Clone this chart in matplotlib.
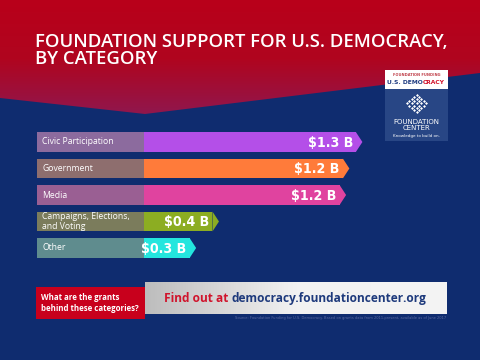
import os
import matplotlib.pyplot as plt
import matplotlib.colors as mcolors
from matplotlib import font_manager
import numpy as np

# Data (billions of USD)
categories = ["Civic Participation", "Government", "Media",
              "Campaigns, Elections,\nand Voting", "Other"]
values = [1.30, 1.22, 1.20, 0.42, 0.28]
value_labels = ["$1.3 B", "$1.2 B", "$1.2 B", "$0.4 B", "$0.3 B"]
bar_colors = ["#b44fe8", "#ff7b3a", "#e0439f", "#8cad22", "#23e6de"]
label_colors = ["#8c6b9e", "#8e6e6e", "#9a5f93", "#7b7c5c", "#5f8c8e"]

title = "FOUNDATION SUPPORT FOR U.S. DEMOCRACY,\nBY CATEGORY"
source = ("Source: Foundation Funding for U.S. Democracy. Based on grants data "
          "from 2011-present, available as of June 2017")

W, H = 480, 360
fig = plt.figure(figsize=(4.8, 3.6), dpi=100)
renderer = fig.canvas.get_renderer()

# background in pixel coordinates
bg = fig.add_axes([0, 0, 1, 1])
bg.axis("off")

red_cmap = mcolors.LinearSegmentedColormap.from_list("r", ["#b9001a", "#b0051f", "#8e1850"])
grad = np.linspace(0, 1, 200).reshape(-1, 1)
bg.imshow(grad, cmap=red_cmap, extent=[0, W, 118, 0], aspect="auto", zorder=0)
bg.add_patch(plt.Polygon([(0, 98), (145, 114), (480, 73), (480, 360), (0, 360)],
                         closed=True, color="#0f2c6f", lw=0, zorder=1))

bg.text(35, 33, title, color="white", fontsize=13.3, family="Open Sans",
        fontweight="semibold", va="top", ha="left", linespacing=0.92)

# logo
bg.add_patch(plt.Rectangle((385, 70), 63, 19, color="white", lw=0, zorder=2))
bg.add_patch(plt.Rectangle((385, 89), 63, 52, color="#2d4b8a", lw=0, alpha=0.85, zorder=2))
bg.text(416.5, 74.5, "FOUNDATION FUNDING", fontsize=2.6, color="#c0404a",
        ha="center", va="center", family="DejaVu Sans", fontweight="bold", zorder=3)
bg.text(422.5, 82.5, "U.S. DEMO", fontsize=4.3, color="#1d3a80", ha="right",
        va="center", family="DejaVu Sans", fontweight="bold", zorder=3)
bg.text(422.5, 82.5, "CRACY", fontsize=4.3, color="#d0102a", ha="left",
        va="center", family="DejaVu Sans", fontweight="bold", zorder=3)
for i in range(5):
    for j in range(5):
        dx = (i - j) * 2.4
        dy = (i + j) * 2.1
        bg.plot(416.5 + dx, 95 + dy, marker="D", ms=1.5, color="white", mew=0, zorder=3)
bg.text(416.5, 125, "FOUNDATION\nCENTER", fontsize=5, color="white", ha="center",
        va="center", family="DejaVu Sans", linespacing=0.9, zorder=3)
bg.text(416.5, 136, "Knowledge to build on.", fontsize=3, color="white",
        ha="center", va="center", family="DejaVu Sans", zorder=3)

# bottom call-out
bg.add_patch(plt.Rectangle((36, 287), 109, 32, color="#c8001c", lw=0, zorder=2))
bg.text(41, 303, "What are the grants\nbehind these categories?", color="white",
        fontsize=5.7, family="Open Sans", fontweight="bold", va="center",
        ha="left", linespacing=1.15, zorder=3)
grey_cmap = mcolors.LinearSegmentedColormap.from_list("g", ["#bdbdbd", "#f2f2f2", "#f4f4f4"])
bg.imshow(np.linspace(0, 1, 200).reshape(1, -1), cmap=grey_cmap,
          extent=[145, 447, 314, 282], aspect="auto", zorder=2)
bg.text(228, 298.5, "Find out at", color="#d0142c", fontsize=8.6,
        family="Open Sans", fontweight="bold", ha="right", va="center", zorder=3)
bg.text(231, 298.5, "democracy.foundationcenter.org", color="#1e3a7c",
        fontsize=8.6, family="Open Sans", fontweight="bold", ha="left",
        va="center", zorder=3)
bg.text(446, 318, source, color="#5a6aa0", fontsize=2.6, ha="right",
        va="center", family="DejaVu Sans", zorder=3)

bg.set_xlim(0, W)
bg.set_ylim(H, 0)

# bar chart axes: 163 px per billion
px_per_b = 163.0
left_px = 37.0
lab_w = 107.0 / px_per_b
xmax = 2.0
ax_w = (xmax + lab_w) * px_per_b
top_px, bot_px = 128.75, 261.25
ax = fig.add_axes([left_px / W, 1 - bot_px / H, ax_w / W, (bot_px - top_px) / H])
ax.set_xlim(-lab_w, xmax)
ax.set_ylim(len(values) - 0.5, -0.5)
ax.axis("off")
ax.patch.set_alpha(0)

y = np.arange(len(values))
bh = 0.75
tip = 6.5 / px_per_b
ax.barh(y, [lab_w] * len(values), left=-lab_w, height=bh, color=label_colors, lw=0)
ax.barh(y, values, left=0, height=bh, color=bar_colors, lw=0)

# value labels use a condensed bold face in the original; use one if installed
val_fp = font_manager.FontProperties(family="DejaVu Sans", weight="bold")
for f in font_manager.fontManager.ttflist:
    name = os.path.basename(f.fname).lower().replace("-", "").replace("_", "")
    if (("condensedbold" in name or "narrowbold" in name)
            and "italic" not in name and "oblique" not in name
            and "semi" not in name and "extra" not in name
            and any(k in name for k in ("notosans", "dejavusans", "liberationsans",
                                        "opensans", "roboto"))):
        val_fp = font_manager.FontProperties(fname=f.fname)
        break
val_fp.set_size(13)
probe = fig.text(0, 0, "$1.3 B", fontproperties=val_fp)
w13 = probe.get_window_extent(renderer).width
probe.remove()
val_fp.set_size(min(13.0, 13.0 * 45.0 / w13))

for yi, v, c, lab, vl in zip(y, values, bar_colors, categories, value_labels):
    ax.add_patch(plt.Polygon([(v, yi - bh / 2), (v + tip, yi), (v, yi + bh / 2)],
                             closed=True, color=c, lw=0))
    ax.text(-lab_w + 5 / px_per_b, yi, lab, color="white", fontsize=6.2,
            family="Open Sans", va="center", ha="left", linespacing=1.25)
    ax.text(v - 3 / px_per_b, yi + 0.03, vl, color="white", fontproperties=val_fp,
            va="center", ha="right")

fig.savefig("out.png", dpi=100)
